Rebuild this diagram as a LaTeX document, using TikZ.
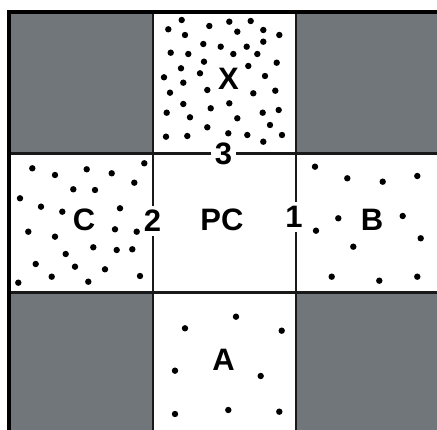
\documentclass[tikz,border=0pt]{standalone}
\usepackage{fontspec}
\setmainfont{Liberation Sans}
\definecolor{cellgray}{RGB}{112,118,122}
\definecolor{linedark}{RGB}{25,25,25}
\tikzset{
  lbl/.style={font=\fontsize{31}{31}\selectfont\bfseries, inner sep=0pt, text=black},
  numlbl/.style={lbl, fill=white, inner xsep=4pt, inner ysep=4pt},
  gridline/.style={draw=linedark, line width=2.8pt},
  borderline/.style={draw=black, line width=3.8pt},
  dotmark/.style={fill=black}
}
\begin{document}
\begin{tikzpicture}[x=1pt,y=-1pt]
\useasboundingbox (0,0) rectangle (437,430);
\fill[white] (0,0) rectangle (437,430);
% gray corner cells
\fill[cellgray] (9,12) rectangle (153,153.5);
\fill[cellgray] (296,12) rectangle (437,153.5);
\fill[cellgray] (9,292.5) rectangle (153,430);
\fill[cellgray] (296,292.5) rectangle (437,430);
% grid lines
\draw[gridline] (153,12) -- (153,430);
\draw[gridline] (296,12) -- (296,430);
\draw[gridline] (9,153.5) -- (437,153.5);
\draw[gridline] (9,292.5) -- (437,292.5);
% outer border
\draw[borderline] (9,430) -- (9,12) -- (437,12);
% dots X
\foreach \p in {(181.7,20),(168.3,29.3),(209.3,26),(229.3,21.7),(250.7,21),(185,35),(237.3,31.7),(263.3,30),(279.3,35),(203.3,44),(220.7,46.7),(246.7,46.7),(263.3,41.7),(170.7,52.7),(188.3,54),(233.3,54),(257.3,54),(276.7,62.7),(181,68.3),(204,61.7),(248.3,66),(164,77.3),(200,73.3),(265,76),(183.3,82.7),(170,92.7),(207.3,90),(253.3,93.3),(275.3,90.7),(183.3,104),(210.7,108.3),(229.3,103.3),(166.7,112.7),(190,117.3),(237.3,118.3),(262.7,112.7),(278.7,110),(207.3,127.3),(270,125),(166,136.7),(187.3,136),(228.3,133.3),(247.3,135),(263.3,141.7),(282,135)}
  \fill[dotmark] \p circle (3.2);
% dots C
\foreach \p in {(32.3,168.3),(55,175),(86.7,169.3),(111.7,173.3),(144.3,163.3),(134.3,182.7),(73.3,189.3),(95,190),(20,198.3),(41,206.7),(62.3,211.7),(120,208.3),(28.3,231.7),(55,236.7),(115,229.3),(136.7,231.7),(93.3,247.3),(116.7,250),(132.3,249.3),(65.7,254),(35.7,264),(75,266.7),(105,269.3),(51.7,276.7),(18.3,282.7),(88.3,281.7),(140,276)}
  \fill[dotmark] \p circle (3.2);
% dots B
\foreach \p in {(315,166.7),(347.3,178.3),(382.7,181.7),(417.3,176),(338.3,218.3),(402.7,216),(316,230.7),(420.7,238.3),(353.3,246.7),(331.7,276.7),(379.3,280.7),(417.3,276.7)}
  \fill[dotmark] \p circle (3.2);
% dots A
\foreach \p in {(236,316.7),(185,328.3),(281.7,330.7),(175,370.7),(260.7,376),(175,414),(228.3,410),(279.3,411.7)}
  \fill[dotmark] \p circle (3.2);
% labels
\node[lbl] (x) at (228.5,79) {X};
\node[lbl] (pc) at (222,220) {PC};
\node[lbl] (c) at (84,220) {C};
\node[lbl] (b) at (372,220) {B};
\node[lbl] (a) at (223.5,360) {A};
\node[numlbl] (n3) at (223.5,154) {3};
\node[numlbl] (n2) at (152.5,221) {2};
\node[numlbl] (n1) at (294,217) {1};
\end{tikzpicture}
\end{document}
